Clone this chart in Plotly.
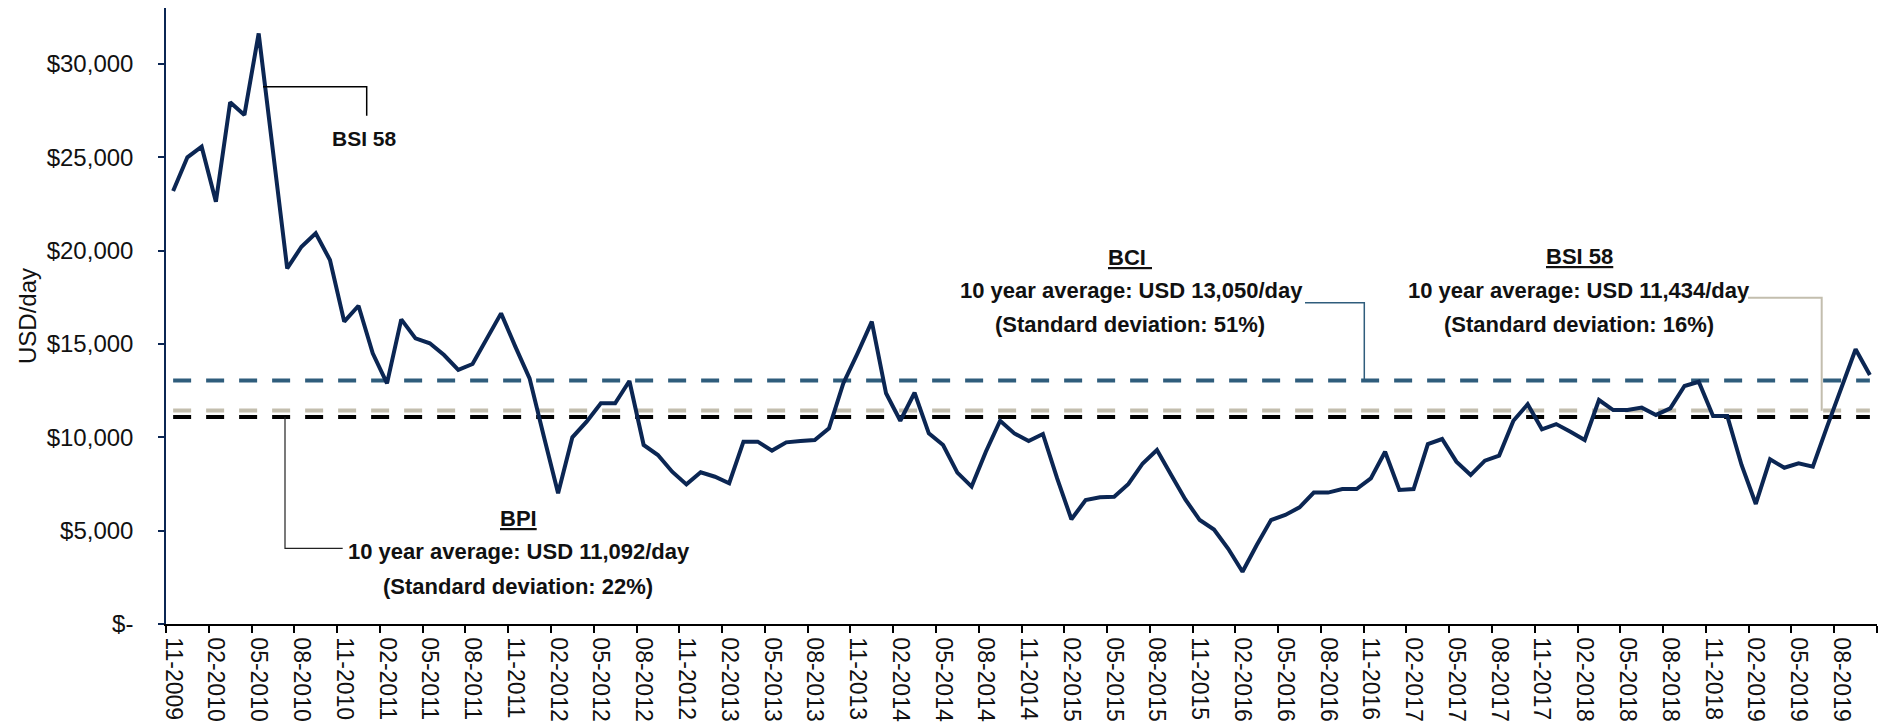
import plotly.graph_objects as go

# ---------------- data ----------------
start_year, start_month, n_months = 2009, 11, 120
months = []
y, m = start_year, start_month
for _ in range(n_months):
    months.append(f"{m:02d}-{y}")
    m += 1
    if m > 12:
        m = 1
        y += 1

bsi58 = [23200, 25000, 25570, 22620, 27950, 27270, 31640, 25300, 19050, 20210,
         20930, 19500, 16200, 17050, 14500, 12890, 16320, 15300, 15040, 14410,
         13610, 13930, 15290, 16640, 14860, 13160, 10050, 7000, 10000, 10840,
         11820, 11820, 13020, 9590, 9050, 8160, 7480, 8125, 7890, 7540,
         9770, 9770, 9290, 9730, 9800, 9860, 10480, 12890, 14500, 16200,
         12360, 10890, 12390, 10210, 9590, 8110, 7360, 9230, 10890, 10210,
         9800, 10180, 7800, 5610, 6640, 6790, 6820, 7500, 8600, 9320,
         7980, 6660, 5570, 5060, 4030, 2800, 4230, 5570, 5840, 6250,
         7040, 7040, 7230, 7230, 7800, 9230, 7180, 7230, 9640, 9910,
         8700, 7980, 8750, 9020, 10890, 11770, 10430, 10710, 10300, 9860,
         12000, 11460, 11460, 11590, 11200, 11550, 12750, 12980, 11140, 11140,
         8520, 6430, 8820, 8370, 8610, 8430, 10570, 12680, 14720, 13340]

avg_bci = 13050
avg_bsi58 = 11434
avg_bpi = 11092

y_tick_values = [0, 5000, 10000, 15000, 20000, 25000, 30000]
y_tick_labels = ["$-", "$5,000", "$10,000", "$15,000", "$20,000", "$25,000", "$30,000"]

# ---------------- styling ----------------
FONT = "Liberation Sans, Arial, sans-serif"
NAVY = "#0B2653"
BCI_C = "#2F5D7C"
TAN_C = "#C3BEAE"
BLACK = "#000000"
TXT = "#111111"

W, H = 1883, 728
ML, MR, MT, MB = 166, 6, 8, 104
Y_MAX = 33000
X_MIN, X_MAX = -0.5, n_months - 0.5

def px_x(px):
    return X_MIN + (px - ML) / (W - ML - MR) * (X_MAX - X_MIN)

def px_y(py):
    return (H - MB - py) / (H - MB - MT) * Y_MAX

idx = list(range(n_months))

fig = go.Figure()

dash = "18px,15px"
fig.add_trace(go.Scatter(x=idx, y=[avg_bci] * n_months, mode="lines",
                         line=dict(color=BCI_C, width=4, dash=dash), hoverinfo="skip"))
fig.add_trace(go.Scatter(x=idx, y=[avg_bsi58] * n_months, mode="lines",
                         line=dict(color=TAN_C, width=4, dash=dash), hoverinfo="skip"))
fig.add_trace(go.Scatter(x=idx, y=[avg_bpi] * n_months, mode="lines",
                         line=dict(color=BLACK, width=4, dash=dash), hoverinfo="skip"))
fig.add_trace(go.Scatter(x=idx, y=bsi58, mode="lines",
                         line=dict(color=NAVY, width=4), name="BSI 58"))

# connectors
def elbow(points, color, width):
    path = "M " + " L ".join(f"{px_x(a)},{px_y(b)}" for a, b in points)
    fig.add_shape(type="path", path=path, xref="x", yref="y",
                  line=dict(color=color, width=width), layer="above")

elbow([(263, 86.7), (366.7, 86.7), (366.7, 115.7)], BLACK, 1.5)
elbow([(285, 417), (285, 548.3), (342.7, 548.3)], "#222222", 1.2)
elbow([(1305, 302.7), (1364.3, 302.7), (1364.3, 381)], BCI_C, 1.5)
elbow([(1748, 297.7), (1821.7, 297.7), (1821.7, 410.7)], TAN_C, 2)

def label(text, cx, cy, size=22):
    fig.add_annotation(x=px_x(cx), y=px_y(cy), xref="x", yref="y", text=text,
                       showarrow=False, xanchor="center", yanchor="middle",
                       font=dict(family=FONT, size=size, color=TXT))

label("<b>BSI 58</b>", 364, 138, 21)

label("<b><u>BCI </u></b>", 1130, 257)
label("<b>10 year average: USD 13,050/day</b>", 1131, 290)
label("<b>(Standard deviation: 51%)</b>", 1130, 324)

label("<b><u>BSI 58</u></b>", 1579, 256)
label("<b>10 year average: USD 11,434/day</b>", 1579, 290)
label("<b>(Standard deviation: 16%)</b>", 1579, 324)

label("<b><u>BPI</u></b>", 518, 518)
label("<b>10 year average: USD 11,092/day</b>", 519, 551)
label("<b>(Standard deviation: 22%)</b>", 518, 586)

fig.update_layout(
    width=W, height=H,
    margin=dict(l=ML, r=MR, t=MT, b=MB, pad=0, autoexpand=False),
    paper_bgcolor="white", plot_bgcolor="white",
    showlegend=False,
    font=dict(family=FONT, size=24, color=TXT),
)

fig.update_xaxes(
    automargin=False,
    range=[X_MIN, X_MAX],
    tickmode="array", tickvals=idx[::3], ticktext=months[::3],
    tickangle=90, ticks="", ticklabelstandoff=7,
    tickfont=dict(family=FONT, size=23, color=TXT),
    showline=True, linecolor=BLACK, linewidth=1.5,
    showgrid=False, zeroline=False,
    minor=dict(tickmode="array", tickvals=[i - 0.5 for i in range(0, n_months + 1, 3)],
               ticks="outside", ticklen=7, tickcolor=BLACK, tickwidth=1.5, showgrid=False),
)

fig.update_yaxes(
    automargin=False,
    range=[0, Y_MAX],
    tickmode="array", tickvals=y_tick_values, ticktext=y_tick_labels,
    ticks="outside", ticklen=6, tickcolor=NAVY, tickwidth=1.5,
    ticklabelstandoff=20,
    tickfont=dict(family=FONT, size=24, color=TXT),
    showline=True, linecolor=NAVY, linewidth=1.5,
    showgrid=False, zeroline=False,
    title=dict(text="USD/day", font=dict(family=FONT, size=24, color=TXT), standoff=3),
)

fig.write_html("out.html")
